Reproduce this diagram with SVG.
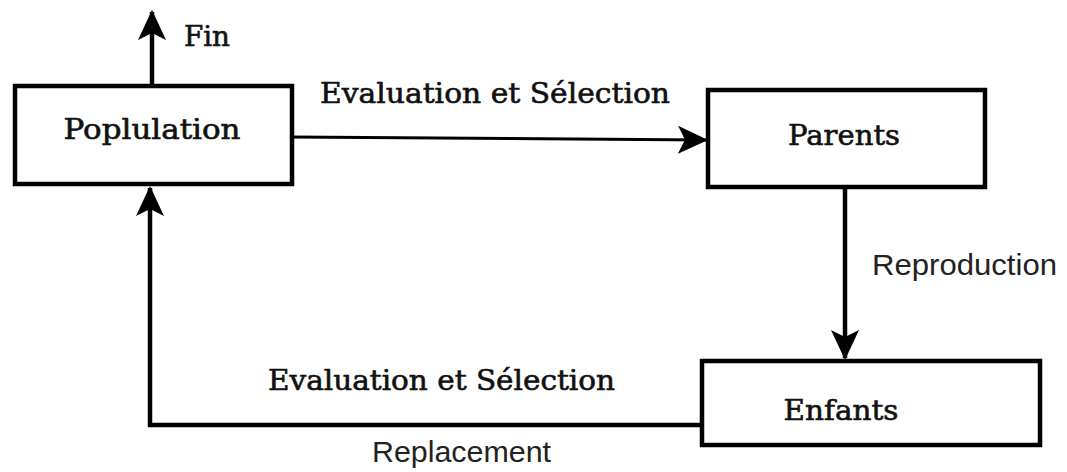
<svg xmlns="http://www.w3.org/2000/svg" width="1067" height="472" viewBox="0 0 1067 472">
<style>
.box{fill:#fff;stroke:#000;stroke-width:4.5}
.lbl{font-family:"DejaVu Serif","Liberation Serif",serif;font-weight:normal;font-size:27px;fill:#111;stroke:#111;stroke-width:0.6}
.sans{font-family:"Liberation Sans",Arial,sans-serif;font-size:29px;fill:#222}
.thick{fill:none;stroke:#000;stroke-width:4.5}
.thin{fill:none;stroke:#000;stroke-width:3}
</style>
<defs>
<marker id="ah" viewBox="0 0 30 30" refX="28" refY="15" markerWidth="30" markerHeight="30" markerUnits="userSpaceOnUse" orient="auto">
<path d="M0,1 L30,15 L0,29 L7,15 Z" fill="#000"/>
</marker>
</defs>
<rect width="1067" height="472" fill="#fff"/>
<g id="connectors">
<path class="thick" d="M152,86 L152,12" marker-end="url(#ah)"/>
<path class="thin" d="M292,137 L706,140" marker-end="url(#ah)"/>
<path class="thick" d="M845,187 L845,358" marker-end="url(#ah)"/>
<path class="thick" d="M702,425 L150,425 L150,188" marker-end="url(#ah)"/>
<text class="lbl" x="184" y="46" textLength="46" lengthAdjust="spacingAndGlyphs">Fin</text>
<text class="lbl" x="320" y="103" textLength="350" lengthAdjust="spacingAndGlyphs">Evaluation et Sélection</text>
<text class="sans" x="872" y="275" textLength="185" lengthAdjust="spacingAndGlyphs">Reproduction</text>
<text class="lbl" x="268" y="390" textLength="347" lengthAdjust="spacingAndGlyphs">Evaluation et Sélection</text>
<text class="sans" x="372" y="462" textLength="179" lengthAdjust="spacingAndGlyphs">Replacement</text>
</g>
<g id="population">
<rect class="box" x="15" y="86" width="277" height="98"/>
<text class="lbl" x="152" y="139" text-anchor="middle" textLength="177" lengthAdjust="spacingAndGlyphs">Poplulation</text>
</g>
<g id="parents">
<rect class="box" x="708" y="90" width="277" height="97"/>
<text class="lbl" x="844" y="145" text-anchor="middle" textLength="112" lengthAdjust="spacingAndGlyphs">Parents</text>
</g>
<g id="enfants">
<rect class="box" x="702" y="361" width="338" height="84"/>
<text class="lbl" x="841" y="420" text-anchor="middle" textLength="115" lengthAdjust="spacingAndGlyphs">Enfants</text>
</g>
</svg>
